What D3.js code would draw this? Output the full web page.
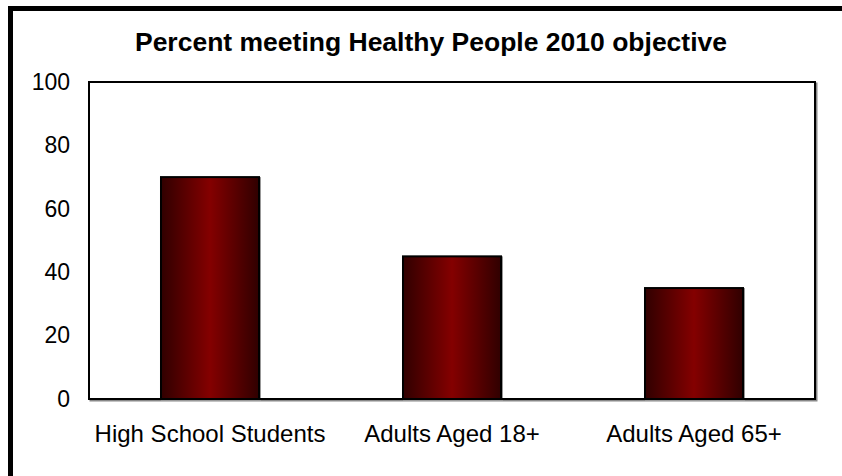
<!DOCTYPE html>
<html>
<head>
<meta charset="utf-8">
<script src="https://cdn.jsdelivr.net/npm/d3@7"></script>
<style>
  html, body { margin: 0; padding: 0; background: #fff; }
  svg { display: block; }
</style>
</head>
<body>
<svg id="chart" width="842" height="476"></svg>
<script>
const categories = ["High School Students", "Adults Aged 18+", "Adults Aged 65+"];
const values = [70, 45, 35];
const yTicks = [0, 20, 40, 60, 80, 100];
const title = "Percent meeting Healthy People 2010 objective";

const svg = d3.select("#chart");
const W = 842, H = 476;
const plot = { left: 89, top: 82, right: 815, bottom: 399 };

const defs = svg.append("defs");
const grad = defs.append("linearGradient").attr("id", "barGrad")
  .attr("x1", "0%").attr("x2", "100%").attr("y1", "0%").attr("y2", "0%");
grad.append("stop").attr("offset", "0%").attr("stop-color", "#300000");
grad.append("stop").attr("offset", "50%").attr("stop-color", "#840000");
grad.append("stop").attr("offset", "100%").attr("stop-color", "#300000");

svg.append("rect").attr("width", W).attr("height", H).attr("fill", "#fff");

// outer frame (extends beyond the picture on right and bottom)
svg.append("rect")
  .attr("x", 10.5).attr("y", 8.5).attr("width", 900).attr("height", 600)
  .attr("fill", "none").attr("stroke", "#000").attr("stroke-width", 5);

const x = d3.scaleBand().domain(categories)
  .range([plot.left, plot.right]).paddingInner(0.595).paddingOuter(0.2975);
const y = d3.scaleLinear().domain([0, 100]).range([plot.bottom, plot.top]);

// plot area shadow + border
svg.append("rect")
  .attr("x", plot.left + 1.5).attr("y", plot.top + 1.5)
  .attr("width", plot.right - plot.left).attr("height", plot.bottom - plot.top)
  .attr("fill", "none").attr("stroke", "#888").attr("stroke-width", 2);
svg.append("rect")
  .attr("x", plot.left).attr("y", plot.top)
  .attr("width", plot.right - plot.left).attr("height", plot.bottom - plot.top)
  .attr("fill", "#fff").attr("stroke", "#000").attr("stroke-width", 2);

// bars
const bars = svg.append("g");
bars.selectAll("rect.shadow").data(values).enter().append("rect")
  .attr("class", "shadow")
  .attr("x", (d, i) => x(categories[i]) + 1)
  .attr("y", d => y(d) + 1)
  .attr("width", x.bandwidth())
  .attr("height", d => y(0) - y(d))
  .attr("fill", "none").attr("stroke", "#999").attr("stroke-width", 2);
bars.selectAll("rect.bar").data(values).enter().append("rect")
  .attr("class", "bar")
  .attr("x", (d, i) => x(categories[i]))
  .attr("y", d => y(d))
  .attr("width", x.bandwidth())
  .attr("height", d => y(0) - y(d))
  .attr("fill", "url(#barGrad)").attr("stroke", "#000").attr("stroke-width", 2);

// redraw bottom axis line over bars
svg.append("line")
  .attr("x1", plot.left).attr("x2", plot.right)
  .attr("y1", plot.bottom).attr("y2", plot.bottom)
  .attr("stroke", "#000").attr("stroke-width", 2);

// y axis labels
const yAxis = d3.axisLeft(y).tickValues(yTicks).tickSize(0).tickPadding(19).tickFormat(d3.format("d"));
const gy = svg.append("g").attr("transform", `translate(${plot.left},0)`).call(yAxis);
gy.select(".domain").remove();
gy.selectAll("text")
  .attr("font-family", "Liberation Sans, Arial, sans-serif")
  .attr("font-size", 23).attr("fill", "#000");

// x axis labels
const xAxis = d3.axisBottom(x).tickSize(0).tickPadding(26);
const gx = svg.append("g").attr("transform", `translate(0,${plot.bottom})`).call(xAxis);
gx.select(".domain").remove();
gx.selectAll("text")
  .attr("font-family", "Liberation Sans, Arial, sans-serif")
  .attr("font-size", 24).attr("fill", "#000");

// title
svg.append("text")
  .attr("x", 431).attr("y", 51)
  .attr("text-anchor", "middle")
  .attr("font-family", "Liberation Sans, Arial, sans-serif")
  .attr("font-weight", "bold")
  .attr("font-size", 26.5)
  .attr("fill", "#000")
  .text(title);
</script>
</body>
</html>
